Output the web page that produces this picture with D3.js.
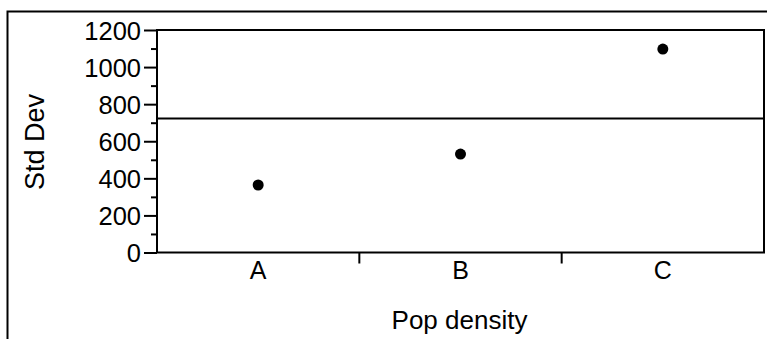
<!DOCTYPE html>
<html>
<head>
<meta charset="utf-8">
<script src="https://cdn.jsdelivr.net/npm/d3@7"></script>
<style>
  html, body { margin: 0; padding: 0; background: #fff; }
  svg { display: block; }
  text { font-family: "Liberation Sans", Arial, sans-serif; fill: #000; }
</style>
</head>
<body>
<svg id="chart" width="767" height="339"></svg>
<script>
// Standard deviation by population-density group
const categories = ["A", "B", "C"];
const stdDevValues = [364, 531, 1097];
const referenceLine = 723;
const yTicks = [0, 200, 400, 600, 800, 1000, 1200];
const yMinorTicks = [100, 300, 500, 700, 900, 1100];
const xTitle = "Pop density";
const yTitle = "Std Dev";

const svg = d3.select("#chart");
const W = 767, H = 339;
const plot = { left: 157, right: 764, top: 30, bottom: 252.5 };

// outer frame (left and top edges)
svg.append("path")
  .attr("d", `M7.5,${H} V11.5 H${W}`)
  .attr("fill", "none").attr("stroke", "#000").attr("stroke-width", 2);

const x = d3.scaleBand().domain(categories).range([plot.left, plot.right]).padding(0);
const y = d3.scaleLinear().domain([0, 1200]).range([plot.bottom, plot.top]);

// plot frame
svg.append("rect")
  .attr("x", plot.left).attr("y", plot.top)
  .attr("width", plot.right - plot.left).attr("height", plot.bottom - plot.top)
  .attr("fill", "none").attr("stroke", "#000").attr("stroke-width", 2);

// y axis
const yAxis = d3.axisLeft(y).tickValues(yTicks).tickSize(13).tickPadding(3).tickFormat(d3.format("d"));
const gy = svg.append("g").attr("transform", `translate(${plot.left},0)`).call(yAxis);
gy.select(".domain").remove();
gy.selectAll(".tick line").attr("stroke-width", 2);
gy.selectAll(".tick text").style("font-size", "25.5px").attr("dy", "0.36em");

const yMinor = d3.axisLeft(y).tickValues(yMinorTicks).tickSize(6).tickFormat("");
const gym = svg.append("g").attr("transform", `translate(${plot.left},0)`).call(yMinor);
gym.select(".domain").remove();
gym.selectAll(".tick line").attr("stroke-width", 2);

// x axis: labels centered in each band, ticks at band boundaries
const xAxis = d3.axisBottom(x).tickSize(0).tickPadding(9);
const gx = svg.append("g").attr("transform", `translate(0,${plot.bottom})`).call(xAxis);
gx.select(".domain").remove();
gx.selectAll(".tick text").style("font-size", "25px");

svg.append("g").selectAll("line")
  .data(categories.slice(1))
  .join("line")
  .attr("x1", d => x(d)).attr("x2", d => x(d))
  .attr("y1", plot.bottom).attr("y2", plot.bottom + 11)
  .attr("stroke", "#000").attr("stroke-width", 2);

// reference line
svg.append("line")
  .attr("x1", plot.left).attr("x2", plot.right)
  .attr("y1", y(referenceLine)).attr("y2", y(referenceLine))
  .attr("stroke", "#000").attr("stroke-width", 2);

// points
svg.append("g").selectAll("circle")
  .data(categories.map((c, i) => ({ c, v: stdDevValues[i] })))
  .join("circle")
  .attr("cx", d => x(d.c) + x.bandwidth() / 2)
  .attr("cy", d => y(d.v))
  .attr("r", 5.5)
  .attr("fill", "#000");

// axis titles
svg.append("text")
  .attr("x", (plot.left + plot.right) / 2 - 1).attr("y", 329)
  .attr("text-anchor", "middle").style("font-size", "26px")
  .text(xTitle);

svg.append("text")
  .attr("transform", `translate(44,142) rotate(-90)`)
  .attr("text-anchor", "middle").style("font-size", "27px")
  .text(yTitle);
</script>
</body>
</html>
